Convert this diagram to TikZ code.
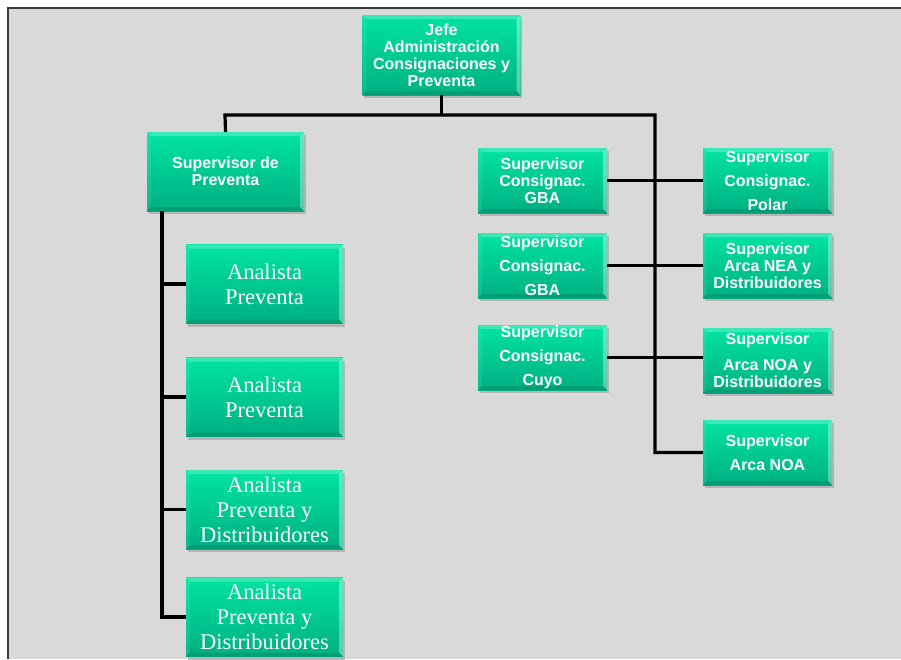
\documentclass[tikz,border=0pt]{standalone}
\usepackage{fontspec}
\usetikzlibrary{shadows}
\newfontfamily\arialf{Liberation Sans}
\newfontfamily\timesf{Liberation Serif}
\definecolor{boxtop}{HTML}{00E4A2}
\definecolor{boxbot}{HTML}{00AF82}
\definecolor{canvasgray}{HTML}{D9D9D9}
\definecolor{framegray}{HTML}{3A3A3A}
\tikzset{
  orgbox/.style={
    rectangle, inner sep=0pt, align=center, text=white,
    top color=boxtop, bottom color=boxbot,
    drop shadow={shadow xshift=1.5pt, shadow yshift=-3pt, fill=black!35, opacity=.7},
    path picture={
      % bevel: light top and right edges, darker bottom edge
      \fill[white, opacity=.22]
        (path picture bounding box.north west) -- (path picture bounding box.north east)
        -- ([xshift=-4pt,yshift=-4pt]path picture bounding box.north east)
        -- ([xshift=4pt,yshift=-4pt]path picture bounding box.north west) -- cycle;
      \fill[white, opacity=.35]
        (path picture bounding box.north east) -- (path picture bounding box.south east)
        -- ([xshift=-4pt,yshift=4pt]path picture bounding box.south east)
        -- ([xshift=-4pt,yshift=-4pt]path picture bounding box.north east) -- cycle;
      \fill[white, opacity=.08]
        (path picture bounding box.north west) -- (path picture bounding box.south west)
        -- ([xshift=4pt,yshift=4pt]path picture bounding box.south west)
        -- ([xshift=4pt,yshift=-4pt]path picture bounding box.north west) -- cycle;
      \fill[black, opacity=.10]
        (path picture bounding box.south west) -- (path picture bounding box.south east)
        -- ([xshift=-4pt,yshift=4pt]path picture bounding box.south east)
        -- ([xshift=4pt,yshift=4pt]path picture bounding box.south west) -- cycle;
    }
  },
  supbox/.style={orgbox, minimum width=129pt, minimum height=65pt,
    font=\arialf\bfseries\fontsize{16}{17}\selectfont},
  bigsup/.style={orgbox, minimum width=158pt, minimum height=80pt,
    font=\arialf\bfseries\fontsize{16}{17}\selectfont},
  anbox/.style={orgbox, minimum width=157pt, minimum height=79pt,
    font=\timesf\fontsize{22.5}{25}\selectfont},
  link/.style={draw=black, line width=3.2pt}
}
\begin{document}
\begin{tikzpicture}[x=1pt, y=-1pt]
  \useasboundingbox (0,0) rectangle (901,659);
  % canvas
  \fill[white] (0,0) rectangle (901,659);
  \fill[canvasgray] (8,8) rectangle (901,659);
  \draw[framegray, line width=1.2pt] (8,659) -- (8,8) -- (901,8);

  % top level
  \node[bigsup] (jefe) at (441.5,55) {Jefe\\Administración\\Consignaciones y\\Preventa};

  % preventa branch
  \node[bigsup, minimum width=157pt, minimum height=79pt] (supprev) at (225.5,171.5) {Supervisor de\\Preventa};
  \node[anbox] (an1) at (264.5,284) {Analista\\Preventa};
  \node[anbox] (an2) at (264.5,397) {Analista\\Preventa};
  \node[anbox] (an3) at (264.5,509.5) {Analista\\Preventa y\\Distribuidores};
  \node[anbox] (an4) at (264.5,617) {Analista\\Preventa y\\Distribuidores};

  % consignaciones branch
  \node[supbox] (gba1) at (542.5,180.5) {Supervisor\\Consignac.\\GBA};
  \node[supbox] (gba2) at (542.5,265.5) {Supervisor\\[7pt]Consignac.\\[7pt]GBA};
  \node[supbox] (cuyo) at (542.5,357.5) {Supervisor\\[7pt]Consignac.\\[7pt]Cuyo};
  \node[supbox] (polar) at (767.5,180.5) {Supervisor\\[7pt]Consignac.\\[7pt]Polar};
  \node[supbox] (nea) at (767.5,265.5) {Supervisor\\Arca NEA y\\Distribuidores};
  \node[supbox] (noad) at (767.5,360.5) {Supervisor\\[9pt]Arca NOA y\\Distribuidores};
  \node[supbox] (noa) at (767.5,452.5) {Supervisor\\[7pt]Arca NOA};

  % connector junctions
  \coordinate (busL) at (225,115);
  \coordinate (busR) at (655,115);
  \coordinate (trunkL) at (162,211);

  % connectors
  \draw[link] (jefe.south) -- (jefe.south |- busL);
  \draw[link] (supprev.north) -- (busL) -- (busR) |- (noa.west);
  \draw[link] (gba1.east) -- (polar.west);
  \draw[link] (gba2.east) -- (nea.west);
  \draw[link] (cuyo.east) -- (cuyo.east -| noad.west);

  \draw[link] (trunkL) |- (an4.west);
  \draw[link] (an1.west) -- (an1.west -| trunkL);
  \draw[link] (an2.west) -- (an2.west -| trunkL);
  \draw[link] (an3.west) -- (an3.west -| trunkL);
\end{tikzpicture}
\end{document}
